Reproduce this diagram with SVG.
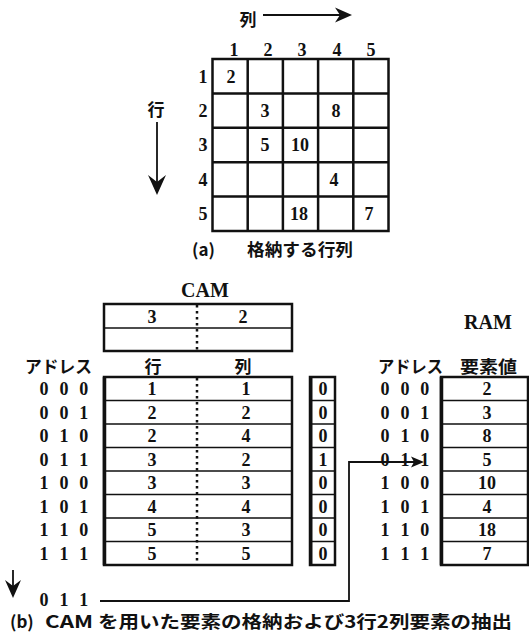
<svg xmlns="http://www.w3.org/2000/svg" width="529" height="635" viewBox="0 0 529 635">
<style>
.n{font-family:"Liberation Serif","DejaVu Serif",serif;font-weight:700;font-size:18px;fill:#111;text-anchor:middle}
.a{font-family:"Liberation Serif","DejaVu Serif",serif;font-weight:700;font-size:18px;fill:#111;letter-spacing:3.2px}
.j{font-family:"Noto Sans CJK JP","Noto Sans CJK SC",sans-serif;font-weight:700;font-size:17px;fill:#111}
.t{font-family:"Liberation Serif","DejaVu Serif",serif;font-weight:700;font-size:20px;fill:#111;text-anchor:middle}
.thick{stroke:#111;stroke-width:2.5;fill:none}
.thin{stroke:#111;stroke-width:1.4;fill:none}
.dot{stroke:#111;stroke-width:2.5;stroke-dasharray:2.5 3.5;fill:none}
.ln{stroke:#111;stroke-width:1.8;fill:none}
</style>
<rect width="529" height="635" fill="#fff"/>

<g id="matrix">
  <text class="j" x="248" y="26" text-anchor="middle" font-size="18">列</text>
  <text class="j" x="156" y="116" text-anchor="middle" font-size="18">行</text>
  <g class="n">
    <text x="234" y="56">1</text><text x="268" y="56">2</text><text x="302" y="56">3</text><text x="337" y="56">4</text><text x="371" y="56">5</text>
    <text x="203" y="82.5">1</text><text x="203" y="117">2</text><text x="203" y="151">3</text><text x="203" y="186">4</text><text x="203" y="220">5</text>
  </g>
  <rect class="thick" x="212.5" y="59" width="176" height="172"/>
  <path class="thick" d="M247.7 59V231M282.9 59V231M318.1 59V231M353.3 59V231M212.5 93.4H388.5M212.5 127.8H388.5M212.5 162.2H388.5M212.5 196.6H388.5"/>
  <g class="n">
    <text x="231" y="82.5">2</text>
    <text x="265" y="117">3</text><text x="336" y="117">8</text>
    <text x="265" y="151">5</text><text x="300" y="151">10</text>
    <text x="334" y="186">4</text>
    <text x="299" y="220">18</text><text x="369" y="220">7</text>
  </g>
</g>

<g id="cam-key">
  <text class="t" x="205" y="297">CAM</text>
  <rect class="thick" x="104" y="304" width="188" height="47"/>
  <line class="thin" x1="104" y1="328" x2="292" y2="328"/>
  <line class="dot" x1="197" y1="305" x2="197" y2="350"/>
  <text class="n" x="152" y="323">3</text>
  <text class="n" x="243" y="323">2</text>
</g>

<g id="cam-table">
  <text class="j" x="25" y="373" textLength="67" lengthAdjust="spacingAndGlyphs">アドレス</text>
  <text class="j" x="153" y="373" text-anchor="middle">行</text>
  <text class="j" x="243" y="373" text-anchor="middle">列</text>
  <rect class="thick" x="104" y="377" width="188" height="188"/>
  <line x1="104.5" y1="377" x2="104.5" y2="565" stroke="#111" stroke-width="3.5"/>
  <path class="thin" d="M104 400.5H292M104 424H292M104 447.5H292M104 471H292M104 494.5H292M104 518H292M104 541.5H292"/>
  <line class="dot" x1="197" y1="378" x2="197" y2="564"/>
  <g class="a">
    <text x="39.5" y="395">0 0 0</text><text x="39.5" y="418.5">0 0 1</text><text x="39.5" y="442">0 1 0</text><text x="39.5" y="465.5">0 1 1</text>
    <text x="39.5" y="489">1 0 0</text><text x="39.5" y="512.5">1 0 1</text><text x="39.5" y="536">1 1 0</text><text x="39.5" y="559.5">1 1 1</text>
  </g>
  <g class="n">
    <text x="152" y="395">1</text><text x="152" y="418.5">2</text><text x="152" y="442">2</text><text x="152" y="465.5">3</text>
    <text x="152" y="489">3</text><text x="152" y="512.5">4</text><text x="152" y="536">5</text><text x="152" y="559.5">5</text>
    <text x="246" y="395">1</text><text x="246" y="418.5">2</text><text x="246" y="442">4</text><text x="246" y="465.5">2</text>
    <text x="246" y="489">3</text><text x="246" y="512.5">4</text><text x="246" y="536">3</text><text x="246" y="559.5">5</text>
  </g>
</g>

<g id="flags">
  <rect class="thick" x="310" y="377" width="25" height="188"/>
  <line x1="311" y1="377" x2="311" y2="565" stroke="#111" stroke-width="3"/>
  <path class="thin" d="M310 400.5H335M310 424H335M310 447.5H335M310 471H335M310 494.5H335M310 518H335M310 541.5H335"/>
  <g class="n">
    <text x="323" y="395">0</text><text x="323" y="418.5">0</text><text x="323" y="442">0</text><text x="323" y="465.5">1</text>
    <text x="323" y="489">0</text><text x="323" y="512.5">0</text><text x="323" y="536">0</text><text x="323" y="559.5">0</text>
  </g>
</g>

<g id="ram">
  <text class="t" x="488" y="329">RAM</text>
  <text class="j" x="378" y="373" textLength="65" lengthAdjust="spacingAndGlyphs">アドレス</text>
  <text class="j" x="460" y="373" textLength="57" lengthAdjust="spacingAndGlyphs">要素値</text>
  <rect class="thick" x="441" y="377" width="87" height="188"/>
  <line x1="441.5" y1="377" x2="441.5" y2="565" stroke="#111" stroke-width="3.5"/>
  <path class="thin" d="M441 400.5H528M441 424H528M441 447.5H528M441 471H528M441 494.5H528M441 518H528M441 541.5H528"/>
  <g class="a">
    <text x="380.5" y="395">0 0 0</text><text x="380.5" y="418.5">0 0 1</text><text x="380.5" y="442">0 1 0</text><text x="380.5" y="465.5">0 1 1</text>
    <text x="380.5" y="489">1 0 0</text><text x="380.5" y="512.5">1 0 1</text><text x="380.5" y="536">1 1 0</text><text x="380.5" y="559.5">1 1 1</text>
  </g>
  <g class="n">
    <text x="487" y="395">2</text><text x="487" y="418.5">3</text><text x="487" y="442">8</text><text x="487" y="465.5">5</text>
    <text x="487" y="489">10</text><text x="487" y="512.5">4</text><text x="487" y="536">18</text><text x="487" y="559.5">7</text>
  </g>
</g>

<g id="search-key">
  <text class="a" x="39.5" y="606">0 1 1</text>
</g>

<g id="connectors">
  <line class="ln" x1="263" y1="15" x2="340" y2="15" stroke-width="2"/>
  <polygon points="352,15 335,7.5 340,15 335,22.5" fill="#111"/>
  <line class="ln" x1="157" y1="122" x2="157" y2="185" stroke-width="2.5"/>
  <polygon points="157,195 148,175 157,182 166,175" fill="#111"/>
  <line class="ln" x1="13" y1="570" x2="13" y2="588" stroke-width="2.5"/>
  <polygon points="13,598 5,580 13,586 21,580" fill="#111"/>
  <polyline class="ln" points="100,601 349,601 349,462 414,462"/>
  <polygon points="424,462 411,456.5 414,462 411,467.5" fill="#111"/>
</g>

<g id="captions">
  <text class="j" y="628"><tspan x="10">(b)</tspan><tspan x="45" textLength="48" lengthAdjust="spacingAndGlyphs">CAM</tspan><tspan x="98" textLength="414" lengthAdjust="spacingAndGlyphs">を用いた要素の格納および3行2列要素の抽出</tspan></text>
  <text class="j" y="256"><tspan x="192">(a)</tspan><tspan x="247" textLength="106" lengthAdjust="spacingAndGlyphs">格納する行列</tspan></text>
</g>
</svg>
